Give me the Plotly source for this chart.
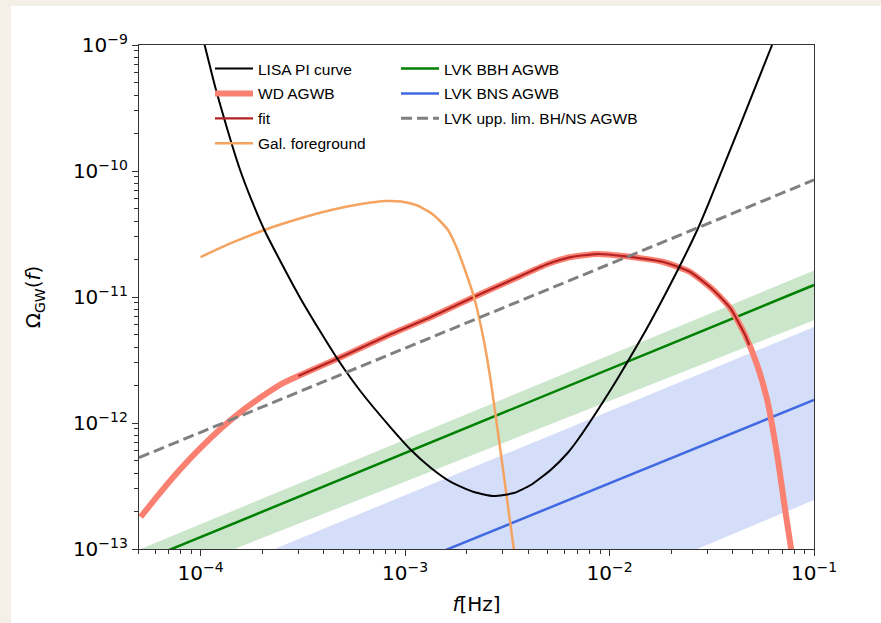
import plotly.graph_objects as go

# ---------------- data (log10 values) ----------------
lisa_logf = [-3.980, -3.927, -3.868, -3.810, -3.751, -3.688, -3.605, -3.507, -3.410, -3.327,
             -3.215, -3.068, -2.971, -2.873, -2.776, -2.663, -2.566, -2.468, -2.385, -2.288,
             -2.205, -2.156, -1.995, -1.898, -1.800, -1.654, -1.571, -1.517, -1.361, -1.205]
lisa_logO = [-9.000, -9.341, -9.675, -9.976, -10.230, -10.468, -10.730, -11.024, -11.286, -11.500,
             -11.754, -12.040, -12.214, -12.357, -12.468, -12.548, -12.579, -12.556, -12.492, -12.373,
             -12.238, -12.135, -11.738, -11.476, -11.198, -10.746, -10.468, -10.262, -9.635, -9.000]

wd_logf = [-4.293, -4.195, -4.098, -4.000, -3.898, -3.805, -3.707, -3.610, -3.522, -3.312,
           -3.068, -2.873, -2.663, -2.468, -2.302, -2.190, -2.059, -1.932, -1.737, -1.605,
           -1.493, -1.410, -1.337, -1.278, -1.229, -1.180, -1.141, -1.112, -1.098]
wd_logO = [-12.746, -12.548, -12.365, -12.198, -12.040, -11.913, -11.798, -11.695, -11.627, -11.476,
           -11.294, -11.159, -11.000, -10.857, -10.738, -10.683, -10.659, -10.675, -10.722, -10.802,
           -10.944, -11.087, -11.302, -11.540, -11.817, -12.254, -12.690, -13.000, -13.206]

fit_logf = [-3.522, -3.312, -3.068, -2.873, -2.663, -2.468, -2.302, -2.190, -2.059, -1.932,
            -1.737, -1.605, -1.493, -1.410, -1.337, -1.317]
fit_logO = [-11.627, -11.476, -11.294, -11.159, -11.000, -10.857, -10.738, -10.683, -10.659, -10.675,
            -10.722, -10.802, -10.944, -11.087, -11.302, -11.381]

gal_logf = [-4.000, -3.849, -3.688, -3.507, -3.361, -3.215, -3.093, -3.020, -2.946, -2.873,
            -2.834, -2.790, -2.751, -2.712, -2.663, -2.615, -2.580, -2.546, -2.507, -2.468, -2.454]
gal_logO = [-10.683, -10.571, -10.468, -10.373, -10.310, -10.262, -10.238, -10.242, -10.270, -10.333,
            -10.389, -10.468, -10.595, -10.762, -11.000, -11.341, -11.675, -12.071, -12.532, -13.000, -13.127]

edge_logf = [-4.301, -1.0]
bbh_logO = [-13.106, -10.905]
bbh_band_hi = [-13.005, -10.790]
bbh_band_lo = [-13.299, -11.185]
bns_logO = [-14.0, -11.817]
bns_band_hi = [-13.442, -11.238]
bns_band_lo = [-14.859, -12.611]
upp_logO = [-12.275, -10.071]

xtick_vals = [1e-4, 1e-3, 1e-2, 1e-1]
xtick_text = ["10<sup>−4</sup>", "10<sup>−3</sup>", "10<sup>−2</sup>", "10<sup>−1</sup>"]
ytick_vals = [1e-13, 1e-12, 1e-11, 1e-10, 1e-9]
ytick_text = ["10<sup>−13</sup>", "10<sup>−12</sup>", "10<sup>−11</sup>", "10<sup>−10</sup>", "10<sup>−9</sup>"]

p = lambda arr: [10 ** v for v in arr]
F = p(edge_logf)

fig = go.Figure()

# bands
fig.add_trace(go.Scatter(x=F, y=p(bbh_band_lo), mode="lines", line=dict(width=0),
                         showlegend=False, hoverinfo="skip"))
fig.add_trace(go.Scatter(x=F, y=p(bbh_band_hi), mode="lines", line=dict(width=0),
                         fill="tonexty", fillcolor="rgba(0,128,0,0.2)",
                         showlegend=False, hoverinfo="skip"))
fig.add_trace(go.Scatter(x=F, y=p(bns_band_lo), mode="lines", line=dict(width=0),
                         showlegend=False, hoverinfo="skip"))
fig.add_trace(go.Scatter(x=F, y=p(bns_band_hi), mode="lines", line=dict(width=0),
                         fill="tonexty", fillcolor="rgba(65,105,225,0.22)",
                         showlegend=False, hoverinfo="skip"))

# legend 2 column
fig.add_trace(go.Scatter(x=F, y=p(bbh_logO), mode="lines", name="LVK BBH AGWB", legendgroup="g5",
                         line=dict(color="#008000", width=2.5), legend="legend2", legendrank=1))
fig.add_trace(go.Scatter(x=F, y=p(bns_logO), mode="lines", name="LVK BNS AGWB", legendgroup="g6",
                         line=dict(color="#4169e1", width=2.5), legend="legend2", legendrank=2))

SM = 0.55
# legend 1 column
fig.add_trace(go.Scatter(x=p(wd_logf), y=p(wd_logO), mode="lines", name="WD AGWB", legendgroup="g2",
                         line=dict(color="#fa8072", width=6, shape="spline", smoothing=SM),
                         legendrank=2))
fig.add_trace(go.Scatter(x=p(fit_logf), y=p(fit_logO), mode="lines", name="fit", legendgroup="g3",
                         line=dict(color="#b22222", width=2.2, shape="spline", smoothing=SM),
                         legendrank=3))
fig.add_trace(go.Scatter(x=p(gal_logf), y=p(gal_logO), mode="lines", name="Gal. foreground", legendgroup="g4",
                         line=dict(color="#f4a460", width=2.5, shape="spline", smoothing=SM),
                         legendrank=4))
fig.add_trace(go.Scatter(x=p(lisa_logf), y=p(lisa_logO), mode="lines", name="LISA PI curve", legendgroup="g1",
                         line=dict(color="black", width=2, shape="spline", smoothing=SM),
                         legendrank=1))
fig.add_trace(go.Scatter(x=F, y=p(upp_logO), mode="lines", name="LVK upp. lim. BH/NS AGWB", legendgroup="g7",
                         line=dict(color="#808080", width=3, dash="11px,5px"),
                         legend="legend2", legendrank=3))

W, H = 881, 623
L, R, T, B = 139, 67, 45, 74
pw, ph = W - L - R, H - T - B

def px(xp):
    return (xp - L) / pw

def py(yp):
    return (H - B - yp) / ph

fig.add_shape(type="rect", xref="paper", yref="paper", layer="below",
              x0=px(11), x1=px(W + 5), y0=py(H + 5), y1=py(6),
              fillcolor="white", line=dict(width=0))

axis_common = dict(type="log", showline=True, linecolor="#333", linewidth=1.2, mirror=True,
                   ticks="outside", ticklen=6, tickwidth=1.2, tickcolor="#333",
                   showgrid=False, zeroline=False, automargin=False,
                   tickfont=dict(family="DejaVu Sans", size=20, color="black"))

minor_x = [m * 10 ** e for e in range(-5, -1) for m in range(2, 10)]
minor_y = [m * 10 ** e for e in range(-14, -9) for m in range(2, 10)]

fig.update_xaxes(range=[-4.301, -1], tickvals=xtick_vals, ticktext=xtick_text,
                 minor=dict(tickvals=minor_x, ticks="outside", ticklen=3.5, tickcolor="#333",
                            showgrid=False),
                 title=dict(text="<i>f</i>[Hz]", font=dict(family="DejaVu Sans", size=20, color="black"),
                            standoff=12),
                 **axis_common)
fig.update_yaxes(range=[-13, -9], tickvals=ytick_vals, ticktext=ytick_text,
                 minor=dict(tickvals=minor_y, ticks="outside", ticklen=3.5, tickcolor="#333",
                            showgrid=False),
                 title=dict(text="Ω<sub>GW</sub>(<i>f</i>)", font=dict(family="DejaVu Sans", size=20, color="black"),
                            standoff=26),
                 **axis_common)

legend_font = dict(family="Liberation Sans, Arial", size=15.5, color="black")
fig.update_layout(
    width=W, height=H,
    margin=dict(l=L, r=R, t=T, b=B),
    paper_bgcolor="#f4f0e8",
    plot_bgcolor="white",
    legend=dict(x=px(210), y=py(52), xanchor="left", yanchor="top", bgcolor="rgba(0,0,0,0)",
                font=legend_font, traceorder="grouped", itemwidth=38, tracegroupgap=1.7),
    legend2=dict(x=px(396), y=py(52), xanchor="left", yanchor="top", bgcolor="rgba(0,0,0,0)",
                 font=legend_font, traceorder="grouped", itemwidth=38, tracegroupgap=1.7),
)

fig.write_html(
    "out.html",
    config={"displayModeBar": False},
    post_script="document.body.style.margin='0px';document.body.style.padding='0px';"
                "document.body.style.background='#f4f0e8';document.body.style.overflow='hidden';",
)
